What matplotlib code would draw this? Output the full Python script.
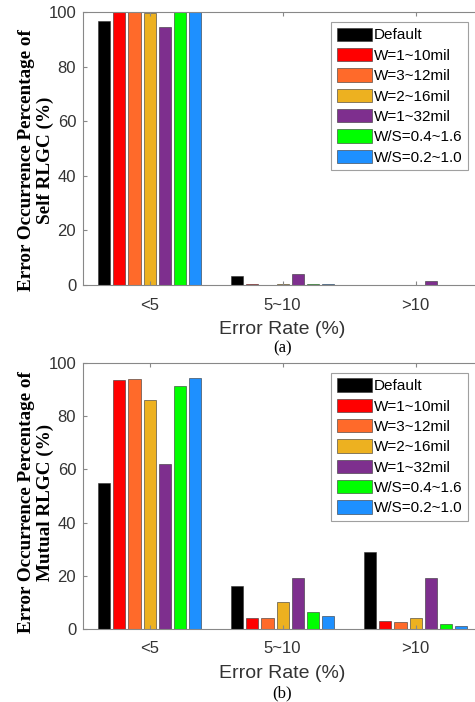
import matplotlib
matplotlib.use("Agg")
import matplotlib.pyplot as plt
import numpy as np

categories = ["<5", "5~10", ">10"]
series_names = ["Default", "W=1~10mil", "W=3~12mil", "W=2~16mil",
                "W=1~32mil", "W/S=0.4~1.6", "W/S=0.2~1.0"]
colors = ["#000000", "#FF0000", "#FF6A2A", "#EDB120", "#7E2F8E", "#00FF00", "#1E90FF"]

self_vals = [
    [96.5, 3.3, 0.0],
    [100.0, 0.2, 0.0],
    [100.0, 0.0, 0.0],
    [99.5, 0.5, 0.0],
    [94.5, 4.2, 1.3],
    [100.0, 0.2, 0.0],
    [100.0, 0.2, 0.0],
]
mutual_vals = [
    [55.0, 16.0, 29.0],
    [93.5, 4.0, 3.0],
    [94.0, 4.0, 2.5],
    [86.0, 10.0, 4.0],
    [62.0, 19.0, 19.0],
    [91.5, 6.5, 2.0],
    [94.5, 5.0, 1.0],
]
yticks = [0, 20, 40, 60, 80, 100]

plt.rcParams["font.family"] = ["Liberation Sans", "DejaVu Sans"]

fig = plt.figure(figsize=(4.75, 7.02), dpi=100)

axes_specs = [
    ([0.175, 0.594, 0.840, 0.389], self_vals, "Error Occurrence Percentage of\nSelf RLGC (%)", "(a)", 348, 0.458),
    ([0.175, 0.104, 0.840, 0.379], mutual_vals, "Error Occurrence Percentage of\nMutual RLGC (%)", "(b)", 693, 0.476),
]

n = len(series_names)
x = np.arange(1, len(categories) + 1)
group_w = 0.8
step = group_w / n
bar_w = step * 0.8

for rect, vals, ylab, sub, sub_y, ylab_y in axes_specs:
    ax = fig.add_axes(rect)
    for i in range(n):
        offs = -group_w / 2 + step * (i + 0.5)
        ax.bar(x + offs, vals[i], width=bar_w, color=colors[i],
               edgecolor="#333333", linewidth=0.4, label=series_names[i])
    ax.set_xlim(0.5, 3.5)
    ax.set_ylim(0, 100)
    ax.set_yticks(yticks)
    ax.set_xticks(x)
    ax.set_xticklabels(categories)
    ax.tick_params(direction="in", top=True, right=True, length=3,
                   labelsize=12, colors="#888888", labelcolor="#333333", pad=5)
    ax.tick_params(axis="x", pad=9)
    for s in ax.spines.values():
        s.set_color("#888888")
        s.set_linewidth(0.8)
    ax.set_ylabel(ylab, family="Liberation Serif", fontweight="bold",
                  fontsize=13.8, linespacing=1.12)
    ax.yaxis.set_label_coords(-0.072, ylab_y)
    ax.set_xlabel("Error Rate (%)", fontsize=14, color="#333333", labelpad=6)
    fig.text(0.594, 1 - sub_y / 702, sub, ha="center", va="center",
             family="Liberation Serif", fontsize=12)
    leg = ax.legend(loc="upper right", bbox_to_anchor=(0.965, 0.962),
                    fontsize=11, handlelength=2.3, handleheight=0.95,
                    labelspacing=0.36, handletextpad=0.15, borderpad=0.35,
                    borderaxespad=0.0, fancybox=False, frameon=True)
    leg.get_frame().set_edgecolor("#888888")
    leg.get_frame().set_linewidth(0.8)

fig.savefig("out.png", dpi=100)
